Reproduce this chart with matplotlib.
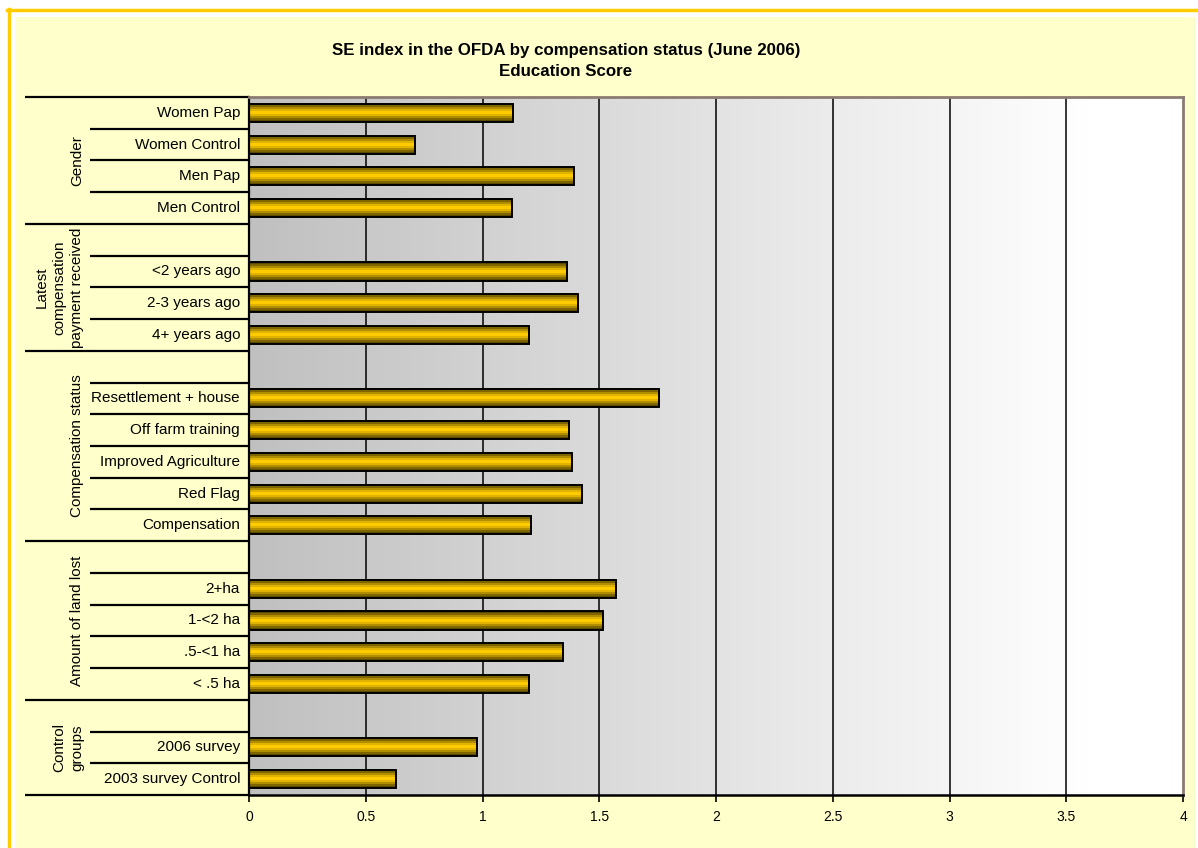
import matplotlib.pyplot as plt
import matplotlib.transforms as mtransforms
from matplotlib.patches import Rectangle
from matplotlib.colors import LinearSegmentedColormap
import numpy as np

plt.rcParams['font.family'] = ['Liberation Sans', 'DejaVu Sans']

# categories top to bottom, '' = empty slot at the head of a group
categories = ['Women Pap', 'Women Control', 'Men Pap', 'Men Control',
              '', '<2 years ago', '2-3 years ago', '4+ years ago',
              '', 'Resettlement + house', 'Off farm training', 'Improved Agriculture',
              'Red Flag', 'Compensation',
              '', '2+ha', '1-<2 ha', '.5-<1 ha', '< .5 ha',
              '', '2006 survey', '2003 survey Control']
values = [1.13, 0.71, 1.39, 1.125,
          np.nan, 1.363, 1.407, 1.20,
          np.nan, 1.757, 1.372, 1.382, 1.425, 1.208,
          np.nan, 1.57, 1.517, 1.346, 1.20,
          np.nan, 0.975, 0.628]
groups = ['Gender', 'Latest\ncompensation\npayment received', 'Compensation status',
          'Amount of land lost', 'Control\ngroups']
group_sizes = [4, 4, 6, 5, 3]  # slots per group, incl. the empty slot
xticks = [0, 0.5, 1, 1.5, 2, 2.5, 3, 3.5, 4]

W, H = 1198, 848
fig = plt.figure(figsize=(W / 100, H / 100), dpi=100)
fig.patch.set_facecolor('white')

# outer frame
fig.add_artist(Rectangle((15 / W, 0), 1 - 15 / W - 2 / W, 1 - 17 / H, transform=fig.transFigure,
                         facecolor='#FFFFCC', edgecolor='none', zorder=0))
fig.add_artist(plt.Line2D([7 / W, 1], [1 - 10 / H, 1 - 10 / H], transform=fig.transFigure,
                          color='#FFCC00', lw=2.5))
fig.add_artist(plt.Line2D([8.5 / W, 8.5 / W], [0, 1 - 9 / H], transform=fig.transFigure,
                          color='#FFCC00', lw=2.5))

left, right, top, bottom = 249, 1183, 97, 795
ax = fig.add_axes([left / W, 1 - bottom / H, (right - left) / W, (bottom - top) / H])
ax.set_xlim(0, 4)
n = len(categories)
ax.set_ylim(n - 0.5, -0.5)

# background gradient (grey on the left, white from ~3.6 on)
bg = LinearSegmentedColormap.from_list('bg', [(0, '#C0C0C0'), (0.9, '#FFFFFF'), (1, '#FFFFFF')])
ax.imshow(np.linspace(0, 1, 256)[None, :], cmap=bg, aspect='auto',
          extent=[0, 4, n - 0.5, -0.5], zorder=0)

for xv in xticks[1:-1]:
    ax.axvline(xv, color='black', lw=1.1, zorder=1)

# bars with golden vertical gradient
gold = LinearSegmentedColormap.from_list('gold', ['#5C4A00', '#806600', '#B38F00', '#E0B300',
                                                  '#FFCC00', '#FFCC00', '#E0B300', '#B38F00',
                                                  '#806600', '#5C4A00'])
bar_h = 0.57
y = np.arange(n)
bars = ax.barh(y, np.nan_to_num(values), height=bar_h, color='none', edgecolor='black',
               lw=1.4, zorder=3)
for b, v in zip(bars, values):
    if np.isnan(v):
        b.set_visible(False)
        continue
    yb = b.get_y()
    im = ax.imshow(np.linspace(0, 1, 10)[:, None], cmap=gold, aspect='auto',
                   extent=[0, v, yb + bar_h, yb], zorder=2, interpolation='nearest')
    im.set_clip_path(b)

# frame
for s in ['top', 'right']:
    ax.spines[s].set_color('#8C7B74')
    ax.spines[s].set_linewidth(2)
ax.spines['left'].set_visible(False)
ax.spines['bottom'].set_color('black')
ax.spines['bottom'].set_linewidth(1.8)
ax.set_xticks(xticks)
ax.set_xticklabels([f'{t:g}' for t in xticks], fontsize=10)
ax.tick_params(axis='x', length=5, width=1.2, pad=6)
ax.set_yticks([])

# category labels and separators
tr = mtransforms.blended_transform_factory(fig.transFigure, ax.transData)
for i, c in enumerate(categories):
    ax.text(240 / W, i, c, transform=tr, ha='right', va='center', fontsize=11)

gbounds = [-0.5]
for g in group_sizes:
    gbounds.append(gbounds[-1] + g)

for yb in np.arange(-0.5, n, 1.0):
    x0 = 25 if any(abs(yb - gb) < 1e-6 for gb in gbounds) else 90
    ax.plot([x0 / W, left / W], [yb, yb], transform=tr, color='black', lw=1.6,
            clip_on=False, solid_capstyle='butt')
ax.plot([left / W, left / W], [-0.5, n - 0.5], transform=tr, color='black', lw=1.6, clip_on=False)

for k, g in enumerate(groups):
    yc = (gbounds[k] + gbounds[k + 1]) / 2
    ax.text(84 / W, yc, g, transform=tr, rotation=90, ha='right', va='center',
            multialignment='center', fontsize=11, linespacing=1.35)

fig.text(566 / W, 1 - 50 / H, 'SE index in the OFDA by compensation status (June 2006)',
         ha='center', va='center', fontsize=12.2, fontweight='bold')
fig.text(566 / W, 1 - 72 / H, 'Education Score', ha='center', va='center',
         fontsize=12.2, fontweight='bold')

fig.savefig('out.png', dpi=100, facecolor=fig.get_facecolor())
